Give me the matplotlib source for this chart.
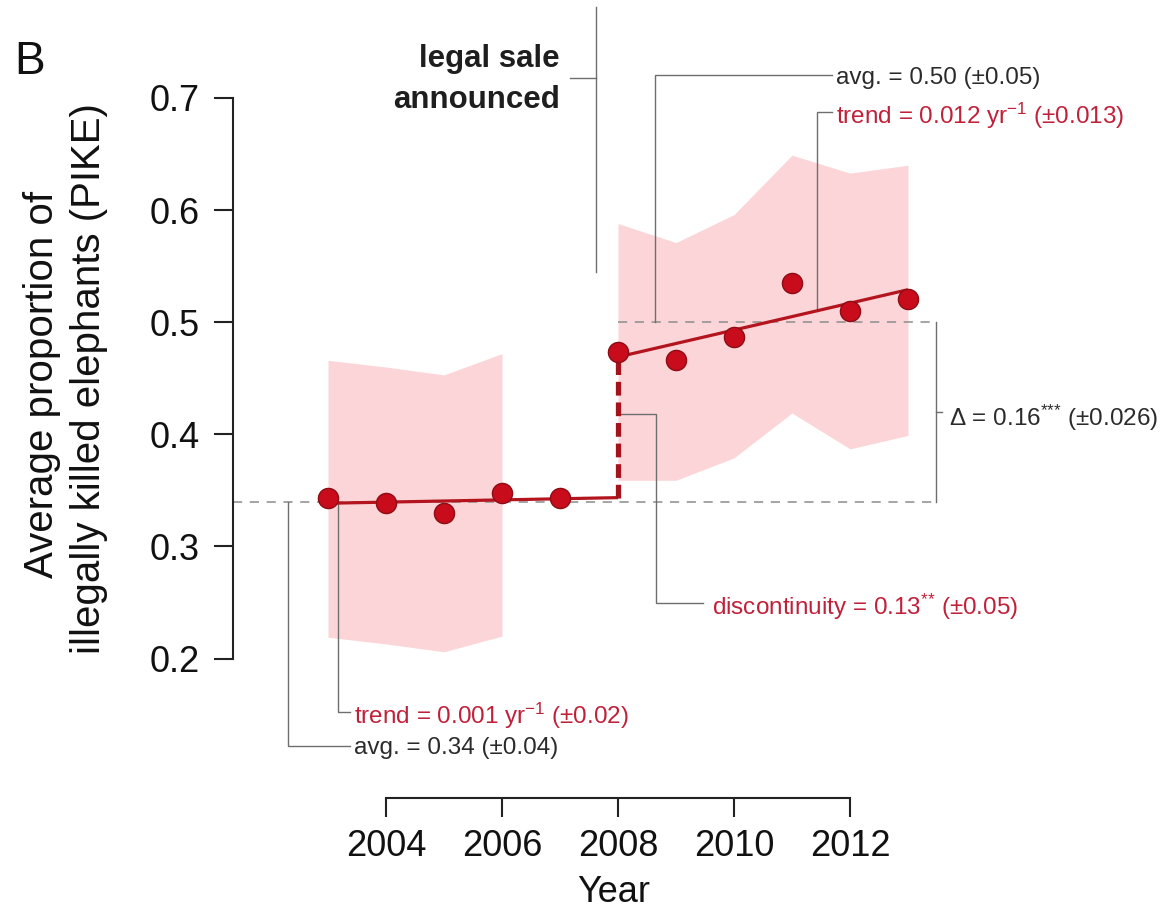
import matplotlib
matplotlib.use("Agg")
import matplotlib.pyplot as plt
import numpy as np

plt.rcParams['font.family'] = ['Liberation Sans', 'DejaVu Sans']
plt.rcParams['mathtext.fontset'] = 'custom'
plt.rcParams['mathtext.rm'] = 'Liberation Sans'
plt.rcParams['mathtext.it'] = 'Liberation Sans:italic'
plt.rcParams['mathtext.bf'] = 'Liberation Sans:bold'

# ---- data -------------------------------------------------------------
years = np.arange(2003, 2014)
pike = [0.343, 0.339, 0.330, 0.348, 0.343, 0.473, 0.466, 0.487, 0.535, 0.510, 0.521]

band_pre_years = [2003, 2004, 2005, 2006]
band_pre_upper = [0.466, 0.460, 0.453, 0.472]
band_pre_lower = [0.219, 0.213, 0.206, 0.220]

band_post_years = [2008, 2009, 2010, 2011, 2012, 2013]
band_post_upper = [0.588, 0.571, 0.596, 0.649, 0.633, 0.640]
band_post_lower = [0.359, 0.359, 0.379, 0.419, 0.387, 0.399]

break_year = 2008
pre_start, pre_level, pre_slope = 2003, 0.3385, 0.001
post_end, post_level, post_slope = 2013, 0.469, 0.012
avg_pre, avg_post = 0.34, 0.50

x_ticks = [2004, 2006, 2008, 2010, 2012]
y_ticks = [0.2, 0.3, 0.4, 0.5, 0.6, 0.7]

# ---- colours ----------------------------------------------------------
BAND = '#fcd5d8'
POINT = '#c80c1c'
POINT_EDGE = '#8e0c14'
TREND = '#b3141d'
RED_TXT = '#c0213a'
GREY_TXT = '#2b2b2b'
GUIDE = '#6e6e6e'
DASH = '#8c8c8c'

fig = plt.figure(figsize=(11.62, 9.11), dpi=100)
ax = fig.add_axes([0, 0, 1, 1])
ax.set_xlim(1997.3448, 2017.3793)
ax.set_ylim(-0.02524, 0.78742)
ax.patch.set_alpha(0)

# uncertainty bands
ax.fill_between(band_pre_years, band_pre_lower, band_pre_upper,
                color=BAND, lw=0, zorder=1)
ax.fill_between(band_post_years, band_post_lower, band_post_upper,
                color=BAND, lw=0, zorder=1)

# reference averages
x_bracket = 2013.48
ax.plot([2001.36, x_bracket], [avg_pre, avg_pre], color=DASH, lw=1.1,
        dashes=(6, 5), zorder=2)
ax.plot([break_year, x_bracket], [avg_post, avg_post], color=DASH, lw=1.1,
        dashes=(6, 5), zorder=2)

# segmented regression
xs_pre = np.array([pre_start, break_year])
ys_pre = pre_level + pre_slope * (xs_pre - pre_start)
xs_post = np.array([break_year, post_end])
ys_post = post_level + post_slope * (xs_post - break_year)
ax.plot(xs_pre, ys_pre, color=TREND, lw=2.3, zorder=4, solid_capstyle='butt')
ax.plot(xs_post, ys_post, color=TREND, lw=2.3, zorder=4, solid_capstyle='butt')
ax.plot([break_year, break_year], [ys_pre[-1], ys_post[0]], color='#a4121c',
        lw=3.8, dashes=(2.6, 1.3), zorder=4)

# yearly PIKE
ax.plot(years, pike, 'o', ms=14.5, mfc=POINT, mec=POINT_EDGE, mew=1.0, zorder=5)

# ---- annotations ------------------------------------------------------
gkw = dict(color=GUIDE, lw=1.0, zorder=3, solid_joinstyle='miter')
fs_ann = 17.5

# legal sale marker
x_sale = 2007.62
ax.plot([x_sale, x_sale], [0.545, 0.781], **gkw)
ax.plot([2007.17, x_sale], [0.718, 0.718], **gkw)
ax.text(2007.0, 0.7277, 'legal sale', ha='right', va='baseline',
        fontsize=22.5, fontweight='bold', color='#1e1e1e')
ax.text(2007.0, 0.6911, 'announced', ha='right', va='baseline',
        fontsize=22.5, fontweight='bold', color='#1e1e1e')

# post-sale average
x_txt_top = 2011.76
ax.plot([2008.64, 2008.64, 2011.69], [avg_post, 0.7205, 0.7205], **gkw)
ax.text(x_txt_top, 0.7205, 'avg. = 0.50 (±0.05)', ha='left',
        va='center_baseline', fontsize=fs_ann, color=GREY_TXT)

# post-sale trend
x_pt = 2011.43
y_pt = post_level + post_slope * (x_pt - break_year)
ax.plot([x_pt, x_pt, 2011.69], [y_pt, 0.6875, 0.6875], **gkw)
ax.text(x_txt_top, 0.6875, 'trend = 0.012 yr$^{-1}$ (±0.013)', ha='left',
        va='center_baseline', fontsize=fs_ann, color=RED_TXT)

# discontinuity
ax.plot([2008.03, 2008.66, 2008.66, 2009.47], [0.418, 0.418, 0.2495, 0.2495], **gkw)
ax.text(2009.62, 0.2495, 'discontinuity = 0.13$^{{*}{*}}$ (±0.05)', ha='left',
        va='center_baseline', fontsize=fs_ann, color=RED_TXT)

# difference of averages
ax.plot([x_bracket, x_bracket], [avg_pre, avg_post], **gkw)
ax.plot([x_bracket, 2013.58], [0.42, 0.42], **gkw)
ax.text(2013.70, 0.4175, 'Δ = 0.16$^{{*}{*}{*}}$ (±0.026)', ha='left',
        va='center_baseline', fontsize=fs_ann, color=GREY_TXT)

# pre-sale trend
x_lt = 2003.17
y_lt = pre_level + pre_slope * (x_lt - pre_start)
ax.plot([x_lt, x_lt, 2003.38], [y_lt, 0.152, 0.152], **gkw)
ax.text(2003.45, 0.152, 'trend = 0.001 yr$^{-1}$ (±0.02)', ha='left',
        va='center_baseline', fontsize=fs_ann, color=RED_TXT)

# pre-sale average
ax.plot([2002.31, 2002.31, 2003.38], [avg_pre, 0.122, 0.122], **gkw)
ax.text(2003.45, 0.122, 'avg. = 0.34 (±0.04)', ha='left',
        va='center_baseline', fontsize=fs_ann, color=GREY_TXT)

# ---- axes -------------------------------------------------------------
for s in ('top', 'right'):
    ax.spines[s].set_visible(False)
ax.spines['left'].set_position(('data', 2001.36))
ax.spines['left'].set_bounds(0.2, 0.7)
ax.spines['bottom'].set_position(('data', 0.0756))
ax.spines['bottom'].set_bounds(2004, 2012)
for s in ('left', 'bottom'):
    ax.spines[s].set_linewidth(1.5)
    ax.spines[s].set_color('#222222')

ax.set_xticks(x_ticks)
ax.set_xticklabels([str(t) for t in x_ticks])
ax.set_yticks(y_ticks)
ax.set_yticklabels([f'{t:.1f}' for t in y_ticks])
ax.tick_params(axis='both', direction='out', length=14, width=1.5,
               color='#222222', labelsize=26, labelcolor='#111111')
ax.tick_params(axis='x', pad=8)
ax.tick_params(axis='y', pad=10)

fig.text(614 / 1162, 1 - 893 / 911, 'Year', ha='center', va='center',
         fontsize=26, color='#111111')
fig.text(42 / 1162, 1 - 384 / 911, 'Average proportion of', rotation=90,
         ha='center', va='center', fontsize=29, color='#111111')
fig.text(89 / 1162, 1 - 379 / 911, 'illegally killed elephants (PIKE)',
         rotation=90, ha='center', va='center', fontsize=29, color='#111111')
fig.text(14 / 1162, 1 - 74 / 911, 'B', ha='left', va='baseline',
         fontsize=33, color='#111111')

fig.savefig('out.png', dpi=100, facecolor='white')
